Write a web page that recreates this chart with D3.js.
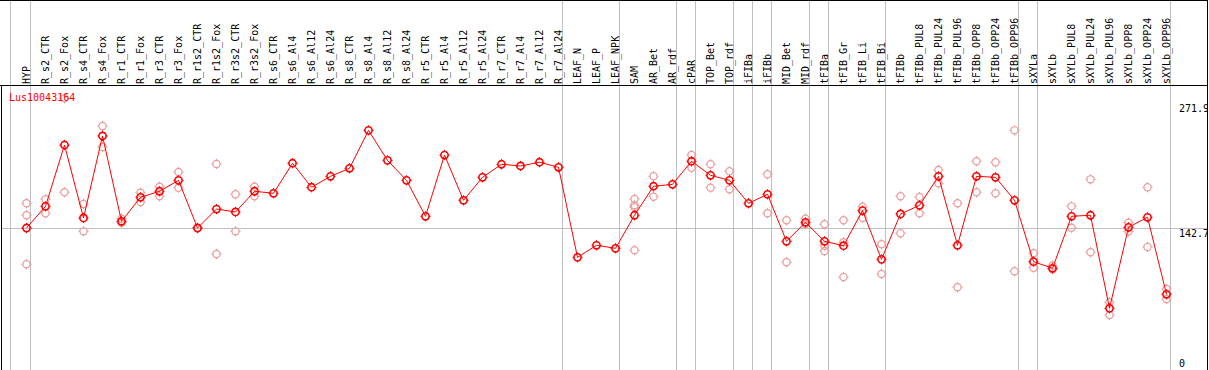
<!DOCTYPE html>
<html><head><meta charset="utf-8">
<script src="https://cdn.jsdelivr.net/npm/d3@7"></script>
<style>
html,body{margin:0;padding:0;background:#fff;}
svg{display:block;}
text{font-family:"DejaVu Sans Mono",monospace;font-size:10px;}
</style></head>
<body>
<script>
const geneName = "Lus10043164";
const categories = ["HYP","R_s2_CTR","R_s2_Fox","R_s4_CTR","R_s4_Fox","R_r1_CTR","R_r1_Fox","R_r3_CTR","R_r3_Fox","R_r1s2_CTR","R_r1s2_Fox","R_r3s2_CTR","R_r3s2_Fox","R_s6_CTR","R_s6_Al4","R_s6_Al12","R_s6_Al24","R_s8_CTR","R_s8_Al4","R_s8_Al12","R_s8_Al24","R_r5_CTR","R_r5_Al4","R_r5_Al12","R_r5_Al24","R_r7_CTR","R_r7_Al4","R_r7_Al12","R_r7_Al24","LEAF_N","LEAF_P","LEAF_NPK","SAM","AR_Bet","AR_rdf","cPAR","TOP_Bet","TOP_rdf","iFIBa","iFIBb","MID_Bet","MID_rdf","tFIBa","tFIB_Gr","tFIB_Li","tFIB_Bi","tFIBb","tFIBb_PUL8","tFIBb_PUL24","tFIBb_PUL96","tFIBb_OPP8","tFIBb_OPP24","tFIBb_OPP96","sXYLa","sXYLb","sXYLb_PUL8","sXYLb_PUL24","sXYLb_PUL96","sXYLb_OPP8","sXYLb_OPP24","sXYLb_OPP96"];
const means = [142.7,164.3,225.4,152.7,234.4,149.4,173.3,179.3,190.2,142.7,161.6,158.7,179.3,177.3,207.2,183.3,194.2,202.2,240.0,210.1,190.2,154.4,215.4,170.3,193.2,206.2,204.5,208.2,203.2,113.5,125.5,122.5,155.4,184.3,186.2,209.2,195.2,190.2,167.3,176.3,129.5,148.4,129.5,125.1,160.0,111.5,156.7,165.3,194.2,125.5,194.2,193.2,170.3,109.2,102.6,154.4,155.4,62.7,143.4,153.4,76.7];
const replicates = [
 [167.3,155.4,106.6],[171.3,157.4],[271.9,178.3],[166.6,139.4],[244.3,223.4],
 [152.0,148.0],[177.9,168.6],[183.9,174.3],[198.5,182.9],[142.7,142.7],
 [206.5,116.8],[176.3,139.4],[183.9,174.3],[],[],
 [],[],[],[],[],
 [],[],[],[],[],
 [],[],[],[],[],
 [],[],[171.6,165.3,163.3,120.5],[194.2,173.9],[],
 [215.4,202.8],[206.2,182.9],[199.2,181.3],[],[196.2,157.4],
 [150.4,108.6],[152.0,146.7],[146.4,125.1,119.8],[150.4,128.5,93.9],[163.9,153.0],
 [126.5,96.9],[174.3,137.4],[173.6,157.4],[200.5,187.2],[167.3,83.7],
 [209.2,178.3],[208.2,177.3],[240.0,99.6],[117.5,103.2],[105.2,101.6],
 [164.3,143.0],[191.2,118.5],[68.7,56.1],[148.0,139.4],[183.3,123.8],
 [82.0,72.0]
];
const separatorsAfter = [0,28,31,34,35,37,38,39,41,42,45,52,53,60];
const yDomain = [0, 271.9];
const refValue = 142.7;
const yTickLabels = ["271.9","142.7","0"];

const W = 1209, H = 370;
const svg = d3.select("body").append("svg").attr("width", W).attr("height", H);

const x = d3.scalePoint().domain(d3.range(categories.length)).range([26.5, 26.5 + 19*(categories.length-1)]);
const y = d3.scaleLinear().domain(yDomain).range([371.3, 98.3]);

const grey = "#c0c0c0";
// vertical separators
svg.append("line").attr("x1",10.5).attr("x2",10.5).attr("y1",0).attr("y2",H).attr("stroke",grey);
svg.selectAll("line.sep").data(separatorsAfter).enter().append("line")
  .attr("class","sep")
  .attr("x1", d => x(d)+4).attr("x2", d => x(d)+4)
  .attr("y1",0).attr("y2",H).attr("stroke",grey);
// reference line
const yRef = Math.floor(y(refValue)) + 0.5;
svg.append("line").attr("x1",2).attr("x2",1207).attr("y1",yRef).attr("y2",yRef).attr("stroke",grey);

// header labels
svg.selectAll("text.cat").data(categories).enter().append("text")
  .attr("class","cat")
  .attr("transform",(d,i)=>`translate(${x(i)+3.5},84) rotate(-90)`)
  .attr("fill","#000")
  .text(d=>d);

// right labels
const rightY = [111.5, yRef + 8, 366.5];
svg.selectAll("text.yl").data(yTickLabels).enter().append("text")
  .attr("class","yl").attr("x",1179).attr("y",(d,i)=>rightY[i]).attr("fill","#000").text(d=>d);

function marker(g, cx, cy, r, color, sw){
  g.append("circle").attr("cx",cx).attr("cy",cy).attr("r",r).attr("fill","none").attr("stroke",color).attr("stroke-width",sw);
  const t = 1.5;
  g.append("path").attr("d",`M${cx},${cy-r-t}v${t}M${cx},${cy+r}v${t}M${cx-r-t},${cy}h${t}M${cx+r},${cy}h${t}`)
   .attr("stroke",color).attr("stroke-width",1).attr("fill","none");
}

// replicate points
const repG = svg.append("g");
const repPts = [];
replicates.forEach((arr,i)=>arr.forEach(v=>repPts.push([i,v])));
repPts.forEach(([i,v])=>marker(repG, x(i), y(v), 3.6, "#eb9a9a", 1.2));

// gene name
svg.append("text").attr("x",9).attr("y",101).attr("fill","#ff0000").text(geneName);

// mean line
const line = d3.line().x((d,i)=>x(i)).y(d=>y(d));
svg.append("path").datum(means).attr("d",line).attr("fill","none").attr("stroke","#ff0000").attr("stroke-width",1);

// mean points
const meanG = svg.append("g");
means.forEach((v,i)=>marker(meanG, x(i), y(v), 3.6, "#ff0000", 1.6));

// frame (drawn last)
svg.append("line").attr("x1",0).attr("x2",1208).attr("y1",0.5).attr("y2",0.5).attr("stroke","#000");
svg.append("line").attr("x1",0).attr("x2",1208).attr("y1",85.5).attr("y2",85.5).attr("stroke","#000");
svg.append("line").attr("x1",1.5).attr("x2",1.5).attr("y1",85).attr("y2",H).attr("stroke","#000");
svg.append("rect").attr("x",1207).attr("y",0).attr("width",2).attr("height",H).attr("fill","#fff");
svg.append("line").attr("x1",1207.5).attr("x2",1207.5).attr("y1",0).attr("y2",H).attr("stroke","#000");
</script>
</body></html>
